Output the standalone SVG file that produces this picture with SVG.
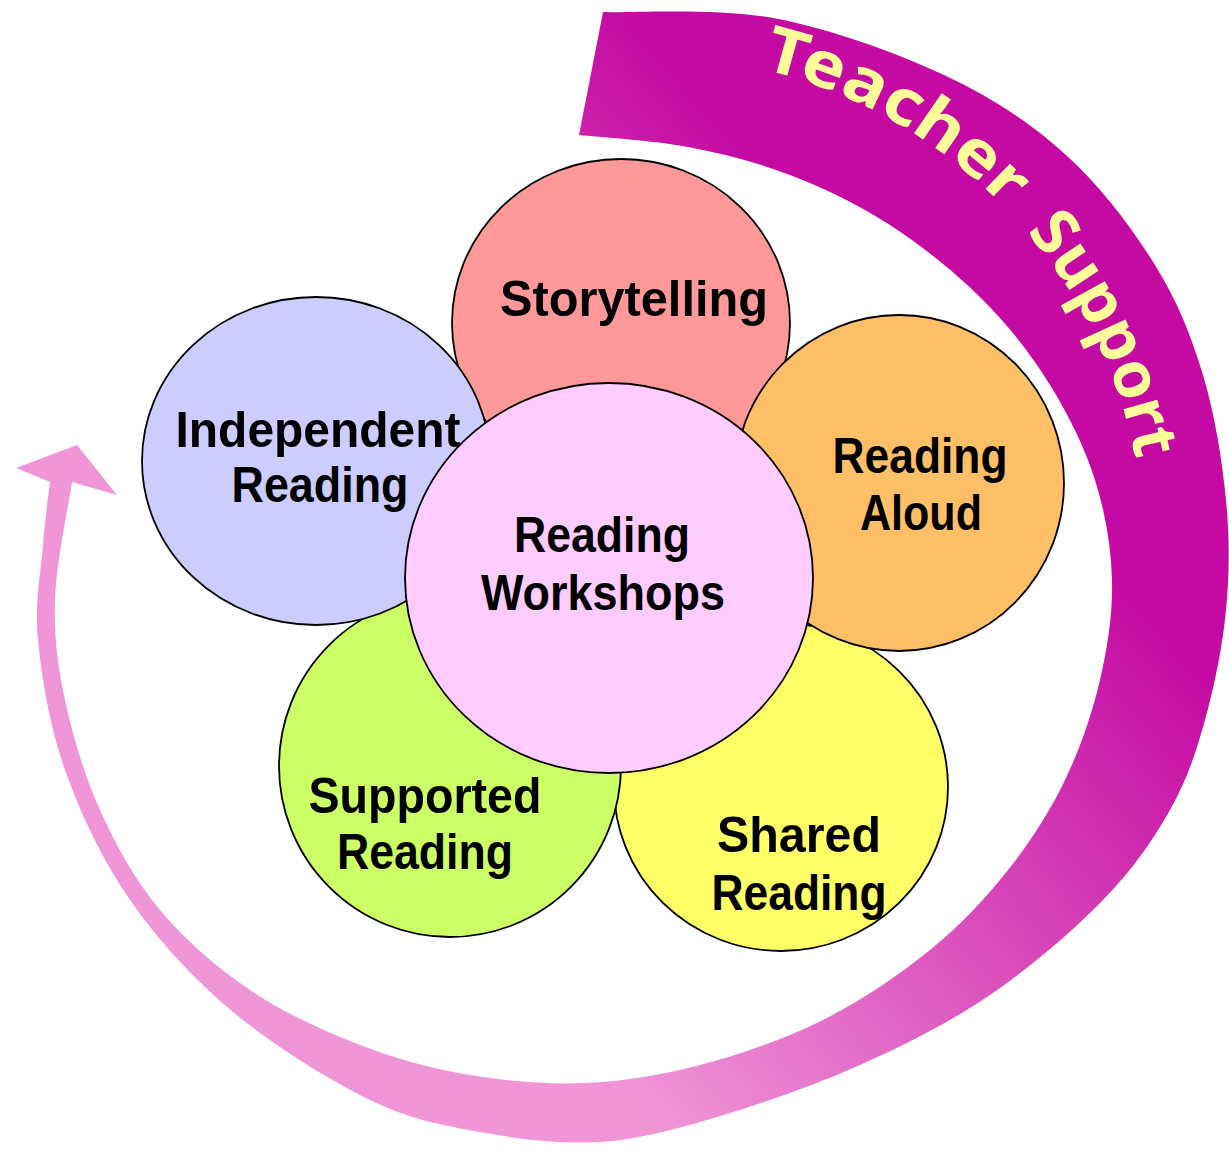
<svg xmlns="http://www.w3.org/2000/svg" width="1229" height="1152" viewBox="0 0 1229 1152">
  <style>
    .petal { stroke: #000; stroke-width: 1.8; }
    .label { font-family: "Liberation Sans", Arial, sans-serif; font-weight: bold; font-size: 50px; fill: #000; text-anchor: middle; }
    .band-label { font-family: "Noto Sans", "DejaVu Sans", sans-serif; font-weight: bold; font-size: 64px; fill: #FFFF99; }
  </style>
  <defs>
    <linearGradient id="bandFill" gradientUnits="userSpaceOnUse" x1="1180" y1="640" x2="640" y2="1110">
      <stop offset="0" stop-color="#C40AA2"/>
      <stop offset="1" stop-color="#F096D8"/>
    </linearGradient>
    <!-- baseline arc for the band lettering: centre (645,555), r = 500 -->
    <path id="bandBaseline" d="M 688.6,56.9 A 500,500 0 0 1 1137.4,641.8"/>
  </defs>

  <!-- curved support arrow -->
  <g id="connectors">
    <path id="support-arrow" fill="url(#bandFill)" d="M 603,12
      C 631.3,13 716.2,7.5 773,18
      C 829.8,28.5 895.2,52.2 944,75
      C 992.8,97.8 1030.8,123.3 1066,155
      C 1101.2,186.7 1132.2,228.3 1155,265
      C 1177.8,301.7 1191.2,335.8 1203,375
      C 1214.8,414.2 1222.2,460.8 1226,500
      C 1229.8,539.2 1229.5,573.3 1226,610
      C 1222.5,646.7 1214.3,686.7 1205,720
      C 1195.7,753.3 1187,780 1170,810
      C 1153,840 1133,869.2 1103,900
      C 1073,930.8 1030.5,967.5 990,995
      C 949.5,1022.5 905.5,1044.7 860,1065
      C 814.5,1085.3 760.3,1104.2 717,1117
      C 673.7,1129.8 639.5,1139.5 600,1142
      C 560.5,1144.5 518.3,1139 480,1132
      C 441.7,1125 411.2,1120 370,1100
      C 328.8,1080 273,1045.3 233,1012
      C 193,978.7 158,940.3 130,900
      C 102,859.7 80.3,813.3 65,770
      C 49.7,726.7 41.7,677.5 38,640
      C 34.3,602.5 41,571.3 43,545
      C 45,518.7 48.8,492.5 50,482
      L 16,468 L 77,445 L 117,495 L 72,482
      C 69.2,501.7 56.2,563.7 55,600
      C 53.8,636.3 57.5,665 65,700
      C 72.5,735 84.2,775 100,810
      C 115.8,845 135,880 160,910
      C 185,940 216.7,967.5 250,990
      C 283.3,1012.5 323.3,1030.8 360,1045
      C 396.7,1059.2 432.5,1068.7 470,1075
      C 507.5,1081.3 546.7,1084.7 585,1083
      C 623.3,1081.3 660.3,1075.5 700,1065
      C 739.7,1054.5 784.7,1039.2 823,1020
      C 861.3,1000.8 899.2,975 930,950
      C 960.8,925 985.5,898.3 1008,870
      C 1030.5,841.7 1049.7,811.7 1065,780
      C 1080.3,748.3 1092.2,713.3 1100,680
      C 1107.8,646.7 1112.8,613.3 1112,580
      C 1111.2,546.7 1105.3,512.5 1095,480
      C 1084.7,447.5 1068.7,415 1050,385
      C 1031.3,355 1009.7,326.7 983,300
      C 956.3,273.3 922.2,245.8 890,225
      C 857.8,204.2 823.7,188 790,175
      C 756.3,162 723.2,153.7 688,147
      C 652.8,140.3 597.2,137 579,135 Z"/>
    <text class="band-label"><textPath href="#bandBaseline" startOffset="74" textLength="284" lengthAdjust="spacingAndGlyphs">Teacher</textPath></text>
    <text class="band-label"><textPath href="#bandBaseline" startOffset="390" textLength="256" lengthAdjust="spacingAndGlyphs">Support</textPath></text>
  </g>

  <!-- petals, back to front -->
  <g id="storytelling">
    <ellipse class="petal" cx="621" cy="323" rx="169" ry="164" fill="#FF9999"/>
    <text class="label" x="634" y="316" textLength="268" lengthAdjust="spacingAndGlyphs">Storytelling</text>
  </g>
  <g id="shared-reading">
    <ellipse class="petal" cx="781" cy="787" rx="167" ry="164" fill="#FFFF66"/>
    <text class="label" x="799" y="852" textLength="164" lengthAdjust="spacingAndGlyphs">Shared</text>
    <text class="label" x="799" y="910" textLength="175" lengthAdjust="spacingAndGlyphs">Reading</text>
  </g>
  <g id="supported-reading">
    <ellipse class="petal" cx="450" cy="766" rx="171" ry="171" fill="#CCFF66"/>
    <text class="label" x="425" y="813" textLength="233" lengthAdjust="spacingAndGlyphs">Supported</text>
    <text class="label" x="425" y="869" textLength="176" lengthAdjust="spacingAndGlyphs">Reading</text>
  </g>
  <g id="independent-reading">
    <ellipse class="petal" cx="316" cy="461" rx="174" ry="164" fill="#CCCCFF"/>
    <text class="label" x="318" y="447" textLength="285" lengthAdjust="spacingAndGlyphs">Independent</text>
    <text class="label" x="320" y="502" textLength="177" lengthAdjust="spacingAndGlyphs">Reading</text>
  </g>
  <g id="reading-aloud">
    <ellipse class="petal" cx="899" cy="483" rx="165" ry="168" fill="#FFBF66"/>
    <text class="label" x="920" y="473" textLength="175" lengthAdjust="spacingAndGlyphs">Reading</text>
    <text class="label" x="921" y="530" textLength="122" lengthAdjust="spacingAndGlyphs">Aloud</text>
  </g>
  <g id="reading-workshops">
    <ellipse class="petal" cx="609" cy="578" rx="204" ry="195" fill="#FFCCFF"/>
    <text class="label" x="602" y="552" textLength="176" lengthAdjust="spacingAndGlyphs">Reading</text>
    <text class="label" x="603" y="610" textLength="244" lengthAdjust="spacingAndGlyphs">Workshops</text>
  </g>
</svg>
